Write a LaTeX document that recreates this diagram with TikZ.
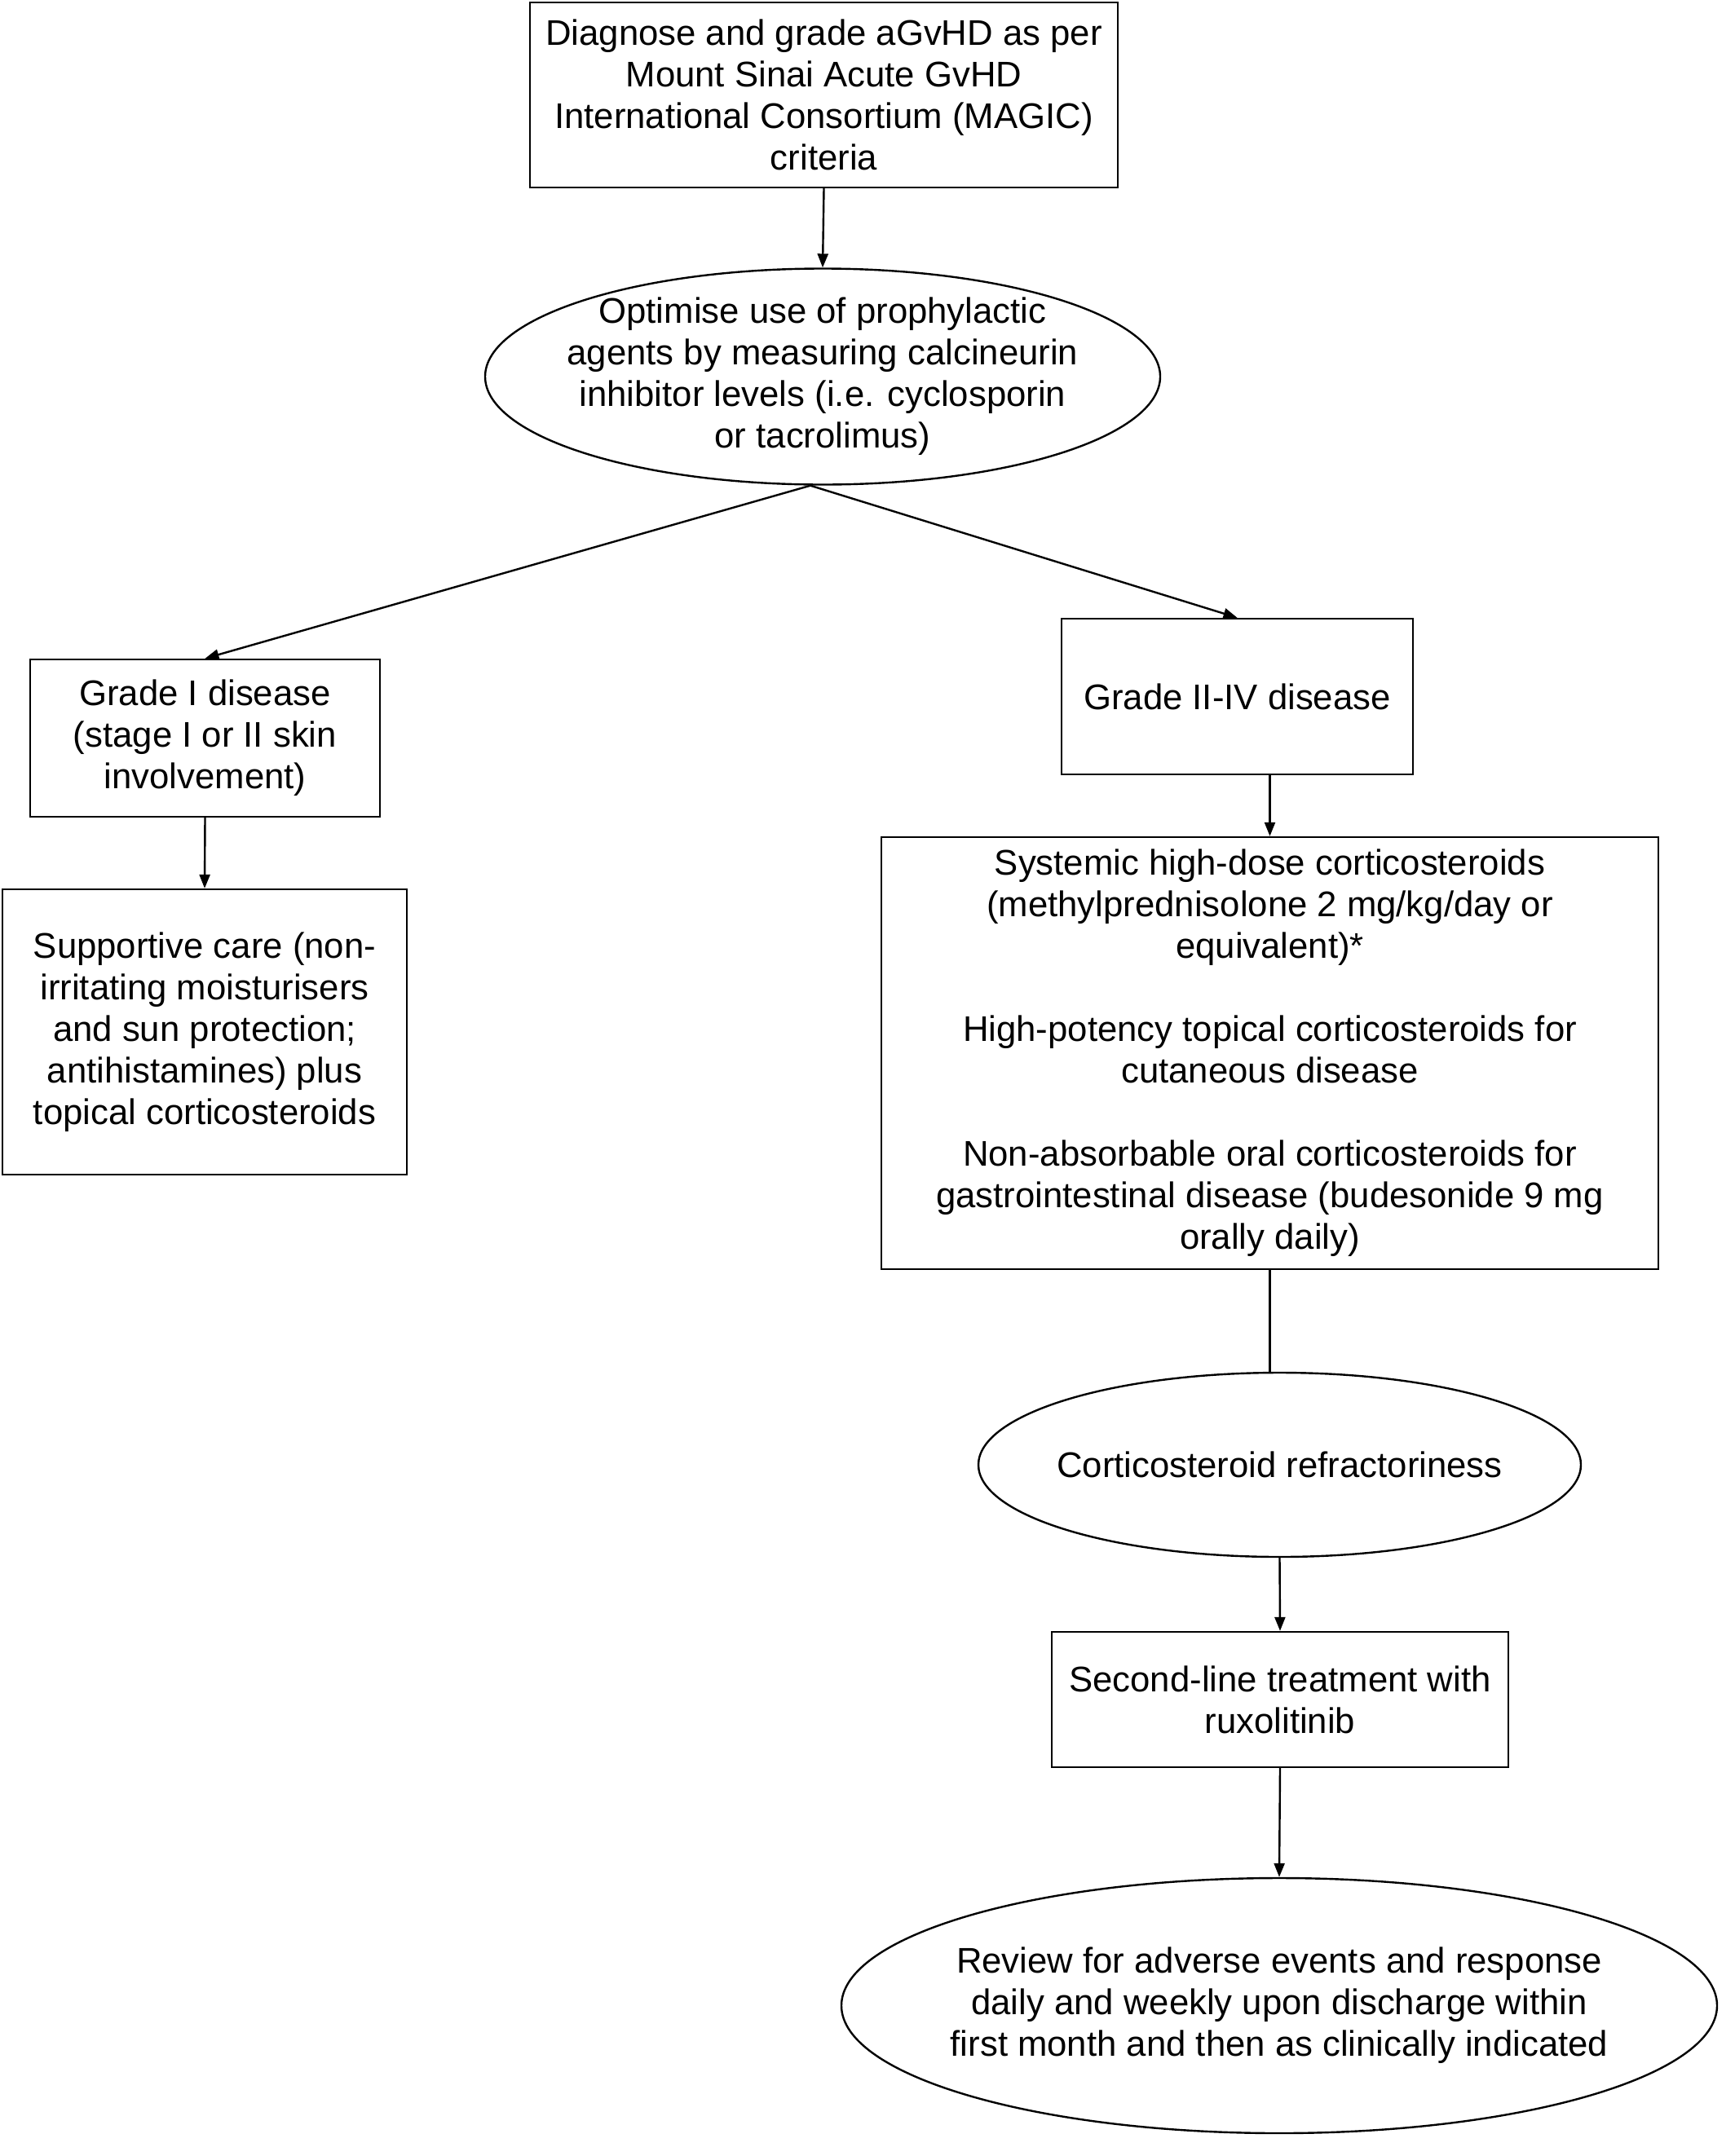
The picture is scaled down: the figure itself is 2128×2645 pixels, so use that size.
\documentclass[tikz,border=0pt]{standalone}
\usepackage{fontspec}
\setmainfont{Liberation Sans}
\usetikzlibrary{shapes.geometric,arrows.meta,calc}
\begin{document}
\begin{tikzpicture}[x=0.5pt,y=-0.5pt,
  every node/.style={font=\fontsize{21.85}{25.5}\selectfont, align=center, inner sep=0pt, line width=1.2pt},
  boxnode/.style={draw, rectangle},
  ellnode/.style={draw, ellipse},
  conn/.style={line width=1.2pt, -{Triangle[length=8.5pt,width=6.5pt]}},
  plainconn/.style={line width=1.2pt}]
\useasboundingbox (0,0) rectangle (2128,2645);
\fill[white] (0,0) rectangle (2128,2645);

\node[boxnode, minimum width=360.5pt, minimum height=113.5pt] (diag) at (1010.5,116.5)
  {Diagnose and grade aGvHD as per\\Mount Sinai Acute GvHD\\International Consortium (MAGIC)\\criteria};
\node[ellnode, minimum width=414pt, minimum height=132.5pt] (opt) at (1009,462) {};
\node (optText) at (opt.center)
  {Optimise use of prophylactic\\agents by measuring calcineurin\\inhibitor levels (i.e. cyclosporin\\or tacrolimus)};
\node[boxnode, minimum width=214.5pt, minimum height=96.5pt] (g1) at (251.5,905.5)
  {Grade I disease\\(stage I or II skin\\involvement)};
\node[boxnode, minimum width=248pt, minimum height=175pt] (sup) at (251,1266)
  {Supportive care (non-\\irritating moisturisers\\and sun protection;\\antihistamines) plus\\topical corticosteroids};
\node[boxnode, minimum width=215.5pt, minimum height=95.5pt] (g2) at (1517.5,854.5)
  {Grade II-IV disease};
\node[boxnode, minimum width=476.5pt, minimum height=265pt] (sys) at (1557.5,1292)
  {Systemic high-dose corticosteroids\\(methylprednisolone 2 mg/kg/day or\\equivalent)*\\[25.5pt]High-potency topical corticosteroids for\\cutaneous disease\\[25.5pt]Non-absorbable oral corticosteroids for\\gastrointestinal disease (budesonide 9 mg\\orally daily)};
\node[ellnode, minimum width=369.5pt, minimum height=113pt] (cort) at (1569.5,1797) {};
\node (cortText) at (cort.center) {Corticosteroid refractoriness};
\node[boxnode, minimum width=280pt, minimum height=83pt] (sec) at (1570,2085)
  {Second-line treatment with\\ruxolitinib};
\node[ellnode, minimum width=537pt, minimum height=156.5pt] (rev) at (1569,2460.5) {};
\node (revText) at (rev.center)
  {Review for adverse events and response\\daily and weekly upon discharge within\\first month and then as clinically indicated};

\coordinate (split) at ($(opt.south)+(-15,0)$);
\draw[conn] (diag.south) -- (opt.north);
\draw[conn] (split) -- (g1.north);
\draw[conn] (split) -- (g2.north);
\draw[conn] (g1.south) -- (sup.north);
\draw[conn] (g2.south -| sys.north) -- (sys.north);
\draw[plainconn] (sys.south) -- (sys.south |- cort.north);
\draw[conn] (cort.south) -- (sec.north);
\draw[conn] (sec.south) -- (rev.north);
\end{tikzpicture}
\end{document}
